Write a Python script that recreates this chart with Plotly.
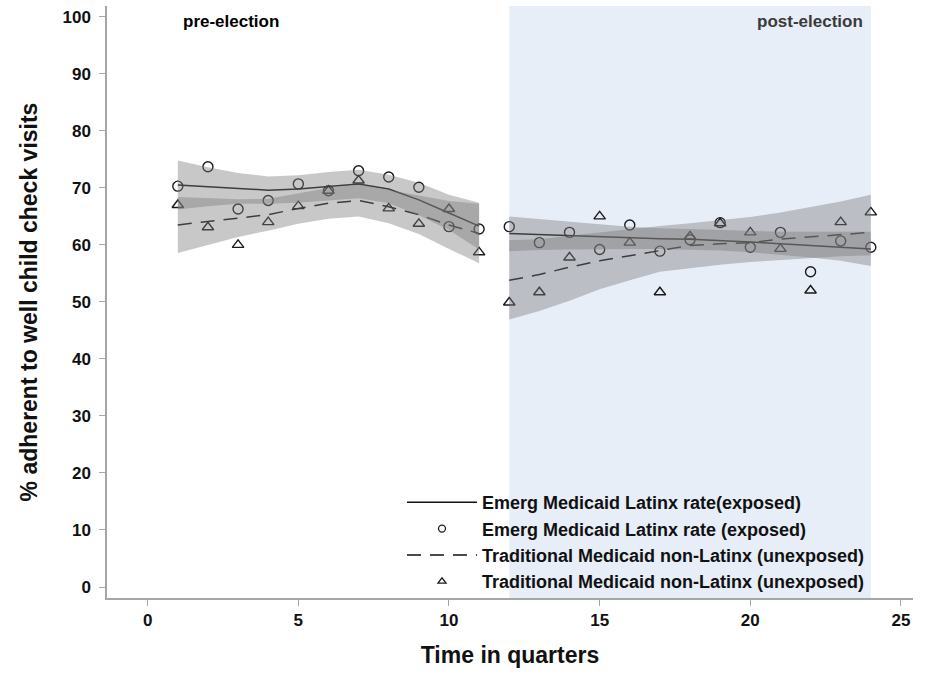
import plotly.graph_objects as go

# ---- data ----
time_pre = [1, 2, 3, 4, 5, 6, 7, 8, 9, 10, 11]
time_post = [12, 13, 14, 15, 16, 17, 18, 19, 20, 21, 22, 23, 24]

latinx_pre = [70.3, 73.7, 66.3, 67.8, 70.7, 69.5, 73.0, 71.9, 70.1, 63.2, 62.8]
latinx_post = [63.2, 60.4, 62.2, 59.2, 63.5, 58.9, 60.9, 63.9, 59.6, 62.2, 55.3, 60.7, 59.6]
nonlatinx_pre = [67.0, 63.1, 60.0, 64.0, 66.8, 69.5, 71.3, 66.4, 63.7, 66.3, 58.7]
nonlatinx_post = [49.9, 51.7, 57.8, 65.0, 60.4, 51.7, 61.5, 63.8, 62.2, 59.3, 52.0, 64.0, 65.7]

latinx_fit_pre = [70.5, 70.2, 69.9, 69.6, 69.8, 70.3, 70.7, 69.8, 67.9, 65.6, 63.3]
latinx_fit_post = [62.0, 61.8, 61.6, 61.4, 61.2, 61.1, 61.0, 60.8, 60.5, 60.2, 59.9, 59.6, 59.3]
nonlatinx_fit_pre = [63.5, 64.1, 64.7, 65.3, 66.4, 67.3, 67.8, 66.7, 65.3, 63.5, 62.0]
nonlatinx_fit_post = [53.8, 54.8, 56.1, 57.2, 58.1, 59.0, 59.9, 60.2, 60.4, 61.0, 61.4, 61.8, 62.2]

latinx_lo_pre = [66.2, 66.8, 67.2, 67.2, 67.4, 67.8, 68.2, 67.3, 65.2, 62.6, 59.2]
latinx_hi_pre = [74.8, 73.6, 72.6, 72.0, 72.2, 72.8, 73.2, 72.3, 70.9, 68.8, 67.4]
nonlatinx_lo_pre = [58.6, 60.0, 61.4, 62.5, 63.7, 64.6, 65.0, 63.8, 61.9, 59.3, 56.8]
nonlatinx_hi_pre = [68.4, 68.2, 68.0, 68.1, 69.1, 70.0, 70.6, 69.6, 68.7, 67.7, 67.2]

latinx_lo_post = [58.9, 59.1, 59.2, 59.3, 59.3, 59.3, 59.2, 59.0, 58.7, 58.3, 57.8, 57.2, 56.3]
latinx_hi_post = [65.0, 64.5, 64.0, 63.6, 63.2, 62.9, 62.8, 62.6, 62.4, 62.3, 62.3, 62.3, 62.3]
nonlatinx_lo_post = [46.9, 48.4, 50.2, 52.2, 53.8, 55.3, 55.9, 56.5, 57.0, 57.4, 57.7, 58.0, 58.2]
nonlatinx_hi_post = [60.8, 61.0, 61.6, 62.2, 62.8, 63.3, 63.8, 64.3, 64.9, 65.7, 66.6, 67.6, 68.8]

x_ticks = [0, 5, 10, 15, 20, 25]
y_ticks = [0, 10, 20, 30, 40, 50, 60, 70, 80, 90, 100]

FONT = "Liberation Sans, Arial, sans-serif"
band_color = "rgba(124,124,124,0.42)"
mark_color = "#1a1a1a"

fig = go.Figure()

# scatter points (drawn first, so bands sit on top as in the original)
fig.add_trace(go.Scatter(
    x=time_pre + time_post, y=latinx_pre + latinx_post, mode="markers",
    showlegend=False,
    marker=dict(symbol="circle-open", size=10, color=mark_color, line=dict(width=1.4)),
))
fig.add_trace(go.Scatter(
    x=time_pre + time_post, y=nonlatinx_pre + nonlatinx_post, mode="markers",
    showlegend=False,
    marker=dict(symbol="triangle-up-open", size=10, color=mark_color, line=dict(width=1.4)),
))

# fitted lines
fig.add_trace(go.Scatter(
    x=time_pre + [None] + time_post, y=latinx_fit_pre + [None] + latinx_fit_post,
    mode="lines", name="Emerg Medicaid Latinx rate(exposed)", legendrank=1,
    line=dict(color="#111111", width=1.5), connectgaps=False,
))
fig.add_trace(go.Scatter(
    x=time_pre + [None] + time_post, y=nonlatinx_fit_pre + [None] + nonlatinx_fit_post,
    mode="lines", name="Traditional Medicaid non-Latinx (unexposed)", legendrank=3,
    line=dict(color="#111111", width=1.5, dash="14px,9px"), connectgaps=False,
))

# legend entries for the point series (smaller symbols, as in the original key)
fig.add_trace(go.Scatter(
    x=[None], y=[None], mode="markers", name="Emerg Medicaid Latinx rate (exposed)",
    legendrank=2,
    marker=dict(symbol="circle-open", size=7, color=mark_color, line=dict(width=1.3)),
))
fig.add_trace(go.Scatter(
    x=[None], y=[None], mode="markers", name="Traditional Medicaid non-Latinx (unexposed)",
    legendrank=4,
    marker=dict(symbol="triangle-up-open", size=7, color=mark_color, line=dict(width=1.3)),
))

# confidence bands
for xs, lo, hi in [
    (time_pre, latinx_lo_pre, latinx_hi_pre),
    (time_pre, nonlatinx_lo_pre, nonlatinx_hi_pre),
    (time_post, latinx_lo_post, latinx_hi_post),
    (time_post, nonlatinx_lo_post, nonlatinx_hi_post),
]:
    fig.add_trace(go.Scatter(
        x=xs + xs[::-1], y=hi + lo[::-1], fill="toself", fillcolor=band_color,
        mode="lines", line=dict(width=0), showlegend=False, hoverinfo="skip",
    ))

fig.add_shape(type="rect", xref="x", yref="paper", x0=time_post[0], x1=time_post[-1],
              y0=0, y1=1, fillcolor="#e8eef8", line=dict(width=0), layer="below")

fig.add_annotation(x=1.1, y=99.2, xref="x", yref="y", text="pre-election", showarrow=False,
                   xanchor="left", yanchor="middle",
                   font=dict(family=FONT, size=17, color="#000000", weight="bold"))
fig.add_annotation(x=23.8, y=99.2, xref="x", yref="y", text="post-election", showarrow=False,
                   xanchor="right", yanchor="middle",
                   font=dict(family=FONT, size=17, color="#3a3a3a", weight="bold"))

axis_common = dict(
    showgrid=False, zeroline=False, showline=True, linecolor="#a6a6a6", linewidth=1.5,
    ticks="outside", ticklen=6, tickcolor="#a6a6a6", tickwidth=1,
    tickfont=dict(family=FONT, size=17, color="#111111", weight="bold"),
)

fig.update_layout(
    width=929, height=676,
    margin=dict(l=107, r=16, t=6, b=78),
    paper_bgcolor="white", plot_bgcolor="white",
    xaxis=dict(range=[-1.35, 25.4], tickvals=x_ticks,
               title=dict(text="Time in quarters", standoff=18,
                          font=dict(family=FONT, size=23, color="#111111", weight="bold")),
               **axis_common),
    yaxis=dict(range=[-1.93, 101.9], tickvals=y_ticks, ticklabelstandoff=5,
               title=dict(text="% adherent to well child check visits", standoff=18,
                          font=dict(family=FONT, size=23, color="#111111", weight="bold")),
               **axis_common),
    legend=dict(x=0.366, y=0.1926, xanchor="left", yanchor="top",
                bgcolor="rgba(0,0,0,0)", itemwidth=70, tracegroupgap=0,
                font=dict(family=FONT, size=18, color="#111111", weight="bold")),
    showlegend=True,
)

fig.write_html("out.html")
